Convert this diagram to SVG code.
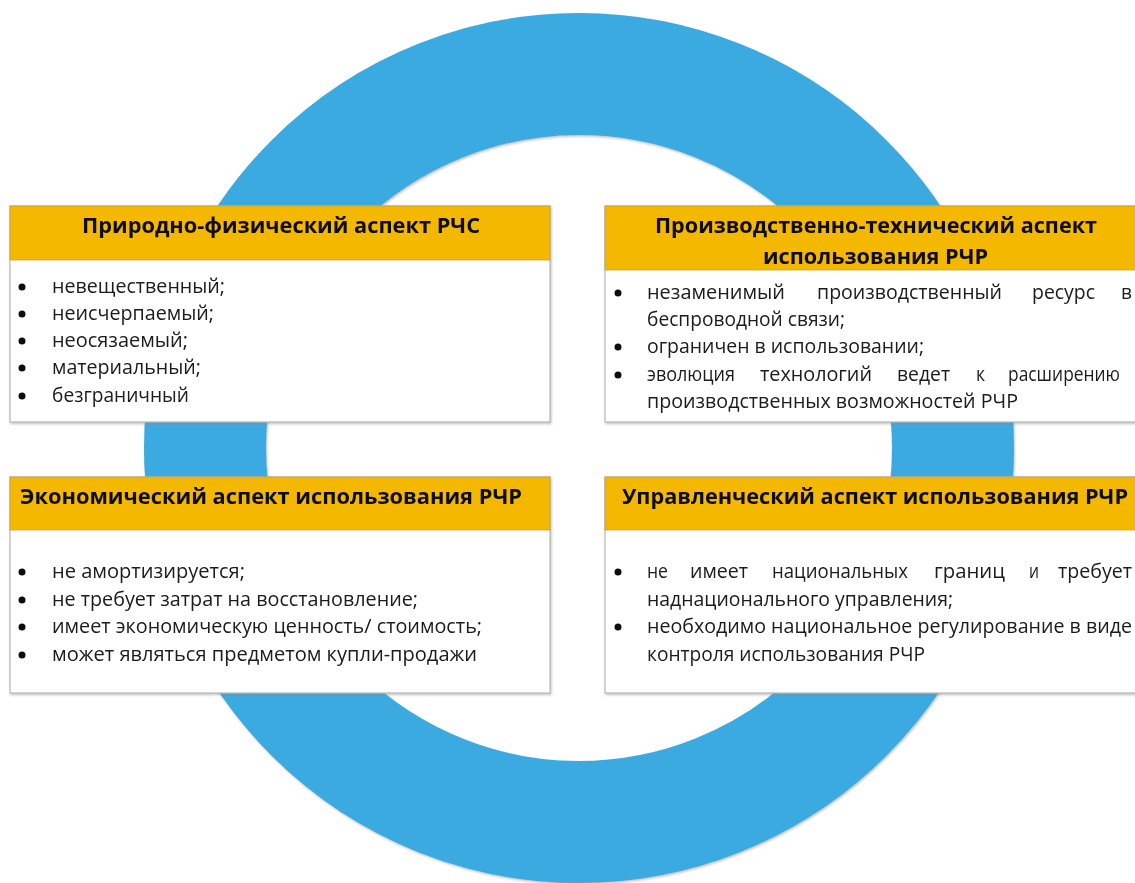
<svg xmlns="http://www.w3.org/2000/svg" width="1135" height="883" viewBox="0 0 1135 883">
<style>
.hdr{fill:#F5B800;stroke:#c9a040;stroke-width:0.8}
.body{fill:#ffffff;stroke:#b8b8b8;stroke-width:1.2}
.ht{font-family:"Open Sans","Noto Sans","Liberation Sans",sans-serif;font-weight:bold;font-size:21px;fill:#111}
.bt{font-family:"Open Sans","Noto Sans","Liberation Sans",sans-serif;font-size:19.5px;fill:#1a1a1a}
.bl{fill:#111}
</style>
<defs>
<filter id="sh" x="-5%" y="-5%" width="110%" height="110%">
<feDropShadow dx="1" dy="1.5" stdDeviation="1.2" flood-color="#888" flood-opacity="0.5"/>
</filter>
<filter id="rsh" filterUnits="userSpaceOnUse" x="0" y="0" width="1135" height="883">
<feDropShadow dx="1" dy="1.5" stdDeviation="1.2" flood-color="#777" flood-opacity="0.45"/>
</filter>
</defs>
<rect width="1135" height="883" fill="#ffffff"/>
<g id="ring">
<circle cx="579" cy="448" r="374" fill="none" stroke="#3AAAE0" stroke-width="122" filter="url(#rsh)"/>
</g>
<g id="box-natural" filter="url(#sh)">
<rect class="body" x="10" y="206" width="540" height="216"/>
<rect class="hdr" x="10" y="206" width="540" height="54"/>
<text class="ht" x="82" y="233" textLength="398" lengthAdjust="spacingAndGlyphs">Природно-физический аспект РЧС</text>
<circle class="bl" cx="22" cy="287" r="3.5"/>
<circle class="bl" cx="22" cy="314" r="3.5"/>
<circle class="bl" cx="22" cy="341" r="3.5"/>
<circle class="bl" cx="22" cy="368" r="3.5"/>
<circle class="bl" cx="22" cy="396" r="3.5"/>
<text class="bt" x="52" y="293" textLength="173" lengthAdjust="spacingAndGlyphs">невещественный;</text>
<text class="bt" x="52" y="320" textLength="162" lengthAdjust="spacingAndGlyphs">неисчерпаемый;</text>
<text class="bt" x="52" y="347" textLength="136" lengthAdjust="spacingAndGlyphs">неосязаемый;</text>
<text class="bt" x="52" y="374" textLength="149" lengthAdjust="spacingAndGlyphs">материальный;</text>
<text class="bt" x="52" y="402" textLength="137" lengthAdjust="spacingAndGlyphs">безграничный</text>
</g>
<g id="box-production" filter="url(#sh)">
<rect class="body" x="605" y="206" width="540" height="216"/>
<rect class="hdr" x="605" y="206" width="540" height="64"/>
<text class="ht" x="655" y="233" textLength="442" lengthAdjust="spacingAndGlyphs">Производственно-технический аспект</text>
<text class="ht" x="763" y="264" textLength="225" lengthAdjust="spacingAndGlyphs">использования РЧР</text>
<circle class="bl" cx="618" cy="293" r="3.5"/>
<circle class="bl" cx="618" cy="347" r="3.5"/>
<circle class="bl" cx="618" cy="375" r="3.5"/>
<text class="bt" x="647" y="299" textLength="138" lengthAdjust="spacingAndGlyphs">незаменимый</text>
<text class="bt" x="817" y="299" textLength="185" lengthAdjust="spacingAndGlyphs">производственный</text>
<text class="bt" x="1032" y="299" textLength="63" lengthAdjust="spacingAndGlyphs">ресурс</text>
<text class="bt" x="1121" y="299" textLength="11" lengthAdjust="spacingAndGlyphs">в</text>
<text class="bt" x="647" y="326" textLength="198" lengthAdjust="spacingAndGlyphs">беспроводной связи;</text>
<text class="bt" x="647" y="353" textLength="277" lengthAdjust="spacingAndGlyphs">ограничен в использовании;</text>
<text class="bt" x="647" y="381" textLength="88" lengthAdjust="spacingAndGlyphs">эволюция</text>
<text class="bt" x="760" y="381" textLength="112" lengthAdjust="spacingAndGlyphs">технологий</text>
<text class="bt" x="897" y="381" textLength="53" lengthAdjust="spacingAndGlyphs">ведет</text>
<text class="bt" x="976" y="381" textLength="9" lengthAdjust="spacingAndGlyphs">к</text>
<text class="bt" x="1008" y="381" textLength="112" lengthAdjust="spacingAndGlyphs">расширению</text>
<text class="bt" x="647" y="408" textLength="371" lengthAdjust="spacingAndGlyphs">производственных возможностей РЧР</text>
</g>
<g id="box-economic" filter="url(#sh)">
<rect class="body" x="10" y="477" width="540" height="216"/>
<rect class="hdr" x="10" y="477" width="540" height="53"/>
<text class="ht" x="20" y="504" textLength="502" lengthAdjust="spacingAndGlyphs">Экономический аспект использования РЧР</text>
<circle class="bl" cx="22" cy="572" r="3.5"/>
<circle class="bl" cx="22" cy="600" r="3.5"/>
<circle class="bl" cx="22" cy="627" r="3.5"/>
<circle class="bl" cx="22" cy="655" r="3.5"/>
<text class="bt" x="52" y="578" textLength="193" lengthAdjust="spacingAndGlyphs">не амортизируется;</text>
<text class="bt" x="52" y="606" textLength="366" lengthAdjust="spacingAndGlyphs">не требует затрат на восстановление;</text>
<text class="bt" x="52" y="633" textLength="430" lengthAdjust="spacingAndGlyphs">имеет экономическую ценность/ стоимость;</text>
<text class="bt" x="52" y="661" textLength="425" lengthAdjust="spacingAndGlyphs">может являться предметом купли-продажи</text>
</g>
<g id="box-management" filter="url(#sh)">
<rect class="body" x="605" y="477" width="540" height="216"/>
<rect class="hdr" x="605" y="477" width="540" height="53"/>
<text class="ht" x="622" y="504" textLength="506" lengthAdjust="spacingAndGlyphs">Управленческий аспект использования РЧР</text>
<circle class="bl" cx="618" cy="572" r="3.5"/>
<circle class="bl" cx="618" cy="627" r="3.5"/>
<text class="bt" x="647" y="578" textLength="21" lengthAdjust="spacingAndGlyphs">не</text>
<text class="bt" x="690" y="578" textLength="58" lengthAdjust="spacingAndGlyphs">имеет</text>
<text class="bt" x="772" y="578" textLength="136" lengthAdjust="spacingAndGlyphs">национальных</text>
<text class="bt" x="934" y="578" textLength="71" lengthAdjust="spacingAndGlyphs">границ</text>
<text class="bt" x="1029" y="578" textLength="10" lengthAdjust="spacingAndGlyphs">и</text>
<text class="bt" x="1058" y="578" textLength="74" lengthAdjust="spacingAndGlyphs">требует</text>
<text class="bt" x="647" y="606" textLength="306" lengthAdjust="spacingAndGlyphs">наднационального  управления;</text>
<text class="bt" x="647" y="633" textLength="485" lengthAdjust="spacingAndGlyphs">необходимо национальное регулирование в виде</text>
<text class="bt" x="647" y="661" textLength="278" lengthAdjust="spacingAndGlyphs">контроля использования РЧР</text>
</g>
</svg>
